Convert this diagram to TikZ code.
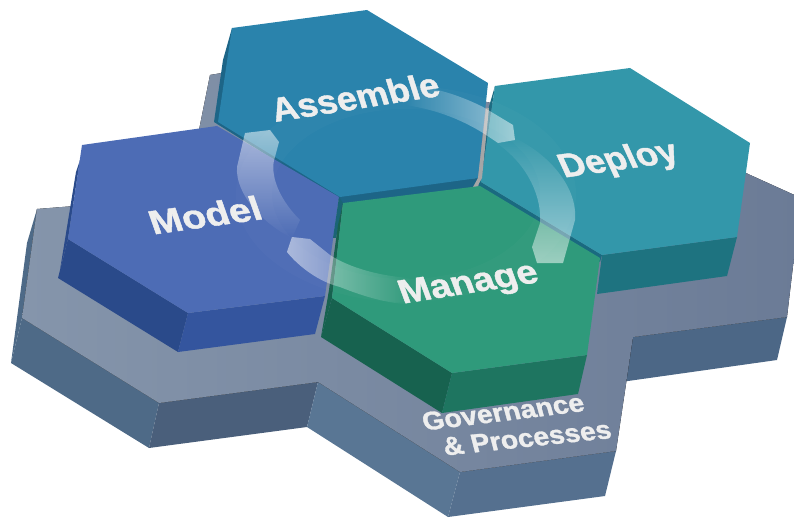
\documentclass[tikz,border=0pt]{standalone}
\usepackage{fontspec}
\setmainfont{Liberation Sans}[BoldFeatures={FakeBold=1.2}]
\usetikzlibrary{fadings,shadings}
\definecolor{basetopL}{HTML}{8595AB}
\definecolor{basetopR}{HTML}{6B7B96}
\definecolor{baseA}{HTML}{4E6A87}
\definecolor{baseB}{HTML}{4A5F7B}
\definecolor{baseC}{HTML}{597694}
\definecolor{baseD}{HTML}{55708F}
\definecolor{baseE}{HTML}{4C6786}
\definecolor{modelTop}{HTML}{4D6CB5}
\definecolor{modelL}{HTML}{2A4A8A}
\definecolor{modelR}{HTML}{34559E}
\definecolor{assembleTop}{HTML}{2A83AC}
\definecolor{assembleDark}{HTML}{1D6587}
\definecolor{deployTop}{HTML}{3397AA}
\definecolor{deployLow}{HTML}{1E7380}
\definecolor{deployDark}{HTML}{1A6A80}
\definecolor{manageTop}{HTML}{2F9A7B}
\definecolor{manageL}{HTML}{17624F}
\definecolor{manageR}{HTML}{1E7560}
\definecolor{labelText}{HTML}{EEEEEE}
\tikzfading[name=fadeR,left color=transparent!100,right color=transparent!0]
\tikzset{
  swoosh/.style={fill=white,fill opacity=.52,path fading=fadeR,fading angle=#1},
  lab/.style={text=labelText,font=\bfseries\fontsize{34}{34}\selectfont,inner sep=0pt,transform shape},
  gov/.style={text=labelText,font=\bfseries\fontsize{26}{26}\selectfont,inner sep=0pt,transform shape}
}
\newcommand{\hexlabel}[8]{%
  \begin{scope}[shift={(#2,#3)},rotate=#4,xslant=#5]
    \node[#8] (#1) at (0,0) {\scalebox{#6}[1]{#7}};
  \end{scope}}
\begin{document}
\begin{tikzpicture}[x=1pt,y=-1pt]
\useasboundingbox (0,0) rectangle (794,518);
\begin{scope}
\clip (0,0) rectangle (794,518);
% base side faces
\fill[baseE] (633,337) -- (787,317) -- (777,360) -- (628,381) -- (620,381) -- cycle;
\fill[baseA] (22,318) -- (159,403) -- (149,448) -- (11,363) -- cycle;
\fill[baseB] (159,403) -- (318,382) -- (307,427) -- (149,448) -- cycle;
\fill[baseC] (318,382) -- (460,472) -- (448,517) -- (307,427) -- cycle;
\fill[baseD] (460,472) -- (616,451) -- (605,496) -- (448,517) -- cycle;
\fill[baseA] (37,209) -- (22,318) -- (11,363) -- (27,243) -- cycle;
% base top
\fill[left color=basetopL,right color=basetopR]
  (37,209) -- (22,318) -- (159,403) -- (318,382) -- (460,472) -- (616,451)
  -- (633,337) -- (787,317) -- (801,198) -- (748,174) -- (700,150) -- (300,60)
  -- (222,73) -- (210,75) -- (197,140) -- (75,206) -- cycle;
% Deploy
\fill[deployLow] (602,255) -- (737,237) -- (727,276) -- (597,294) -- cycle;
\fill[deployDark] (495,86) -- (481,182) -- (602,255) -- (600,262) -- (478,190) -- (488,110) -- cycle;
\fill[deployTop] (495,86) -- (630,68) -- (750,143) -- (737,237) -- (602,255) -- (481,182) -- cycle;
% Assemble
\fill[assembleDark] (232,28) -- (223,60) -- (214,122) -- (340,201) -- (343,206) -- (473,188) -- (478,178) -- (340,190) -- cycle;
\fill[assembleTop] (232,28) -- (367,10) -- (488,83) -- (478,178) -- (340,197) -- (218,122) -- cycle;
% light gap between Assemble and Deploy
\fill[black!35!white] (486,108) -- (478,178) -- (473,187) -- (477,187) -- (482,178) -- (489,108) -- cycle;
% Model
\fill[modelL] (80,160) -- (76,172) -- (60,270) -- (68,239) -- cycle;
\fill[modelL] (68,239) -- (188,313) -- (178,352) -- (58,278) -- cycle;
\fill[modelR] (188,313) -- (325,296) -- (315,334) -- (178,352) -- cycle;
\fill[modelTop] (82,145) -- (217,126) -- (339,197) -- (325,296) -- (188,313) -- (68,239) -- cycle;
% Manage
\fill[assembleDark!70!manageL] (339,197) -- (343,203) -- (336,238) -- (333,238) -- cycle;
\fill[manageL] (343,203) -- (332,298) -- (321,337) -- (329,290) -- (338,225) -- cycle;
\fill[manageL] (332,298) -- (452,373) -- (442,413) -- (321,337) -- cycle;
\fill[manageR] (452,373) -- (587,355) -- (578,394) -- (442,413) -- cycle;
\fill[manageTop] (343,203) -- (480,186) -- (600,258) -- (587,355) -- (452,373) -- (332,298) -- cycle;
% faint ring
\fill[white,fill opacity=.018,even odd rule]
  (406,194) ellipse [x radius=170,y radius=108]
  (406,194) ellipse [x radius=134,y radius=85];
% swooshes
\fill[swoosh=0] (405,84) .. controls (440,88) and (465,98) .. (483,107)
  -- (513,125) -- (515,140) -- (498,143) -- (483,133)
  .. controls (465,122) and (440,110) .. (405,105) -- cycle;
\fill[swoosh=-90] (508,135) .. controls (545,150) and (578,185) .. (575,220)
  -- (563,263) -- (537,263) -- (532,247) -- (540,223)
  .. controls (542,200) and (530,165) .. (495,142) -- cycle;
\fill[swoosh=180] (410,278) .. controls (380,276) and (350,268) .. (330,255)
  -- (310,239) -- (292,237) -- (287,252)
  .. controls (300,268) and (320,282) .. (340,287)
  .. controls (365,297) and (390,304) .. (410,304) -- cycle;
\fill[swoosh=90] (292,238) .. controls (265,225) and (235,195) .. (237,167)
  -- (245,133) -- (270,130) -- (279,142) -- (275,157)
  .. controls (270,170) and (275,195) .. (300,220) -- cycle;
\end{scope}
% labels
\hexlabel{assemble}{355}{97}{9}{-.15}{1.05}{Assemble}{lab}
\hexlabel{model}{205}{215}{8}{-.2}{1.14}{Model}{lab}
\hexlabel{deploy}{619}{161}{8}{-.3}{1.04}{Deploy}{lab}
\hexlabel{manage}{469}{285}{9}{-.2}{1.1}{Manage}{lab}
\hexlabel{governance}{503}{412}{7}{-.15}{1.08}{Governance}{gov}
\hexlabel{processes}{527}{438}{6}{-.15}{1.08}{\& Processes}{gov}
\end{tikzpicture}
\end{document}
